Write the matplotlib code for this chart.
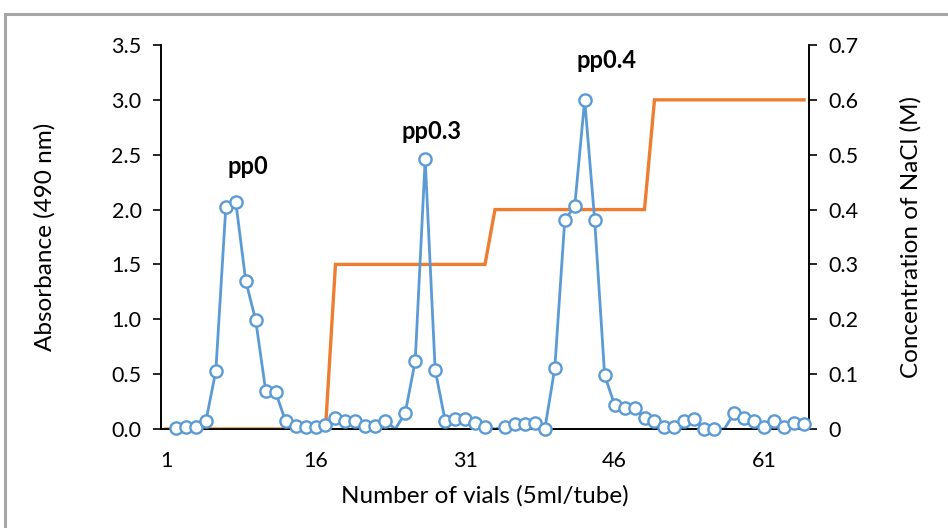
import numpy as np
import matplotlib
matplotlib.use("Agg")
import matplotlib.pyplot as plt
from matplotlib.patches import Rectangle

plt.rcParams['font.family'] = ['Lato', 'DejaVu Sans']

# ---- data ----
vials = list(range(1, 66))
# absorbance at 490 nm (NaN = empty cell, plotted as zero without marker)
absorbance = [np.nan, 0.01, 0.015, 0.015, 0.07, 0.53, 2.02, 2.07, 1.35, 0.99,
              0.35, 0.335, 0.07, 0.03, 0.015, 0.015, 0.035, 0.10, 0.07, 0.07,
              0.03, 0.03, 0.076, np.nan, 0.146, 0.62, 2.46, 0.54, 0.076, 0.095,
              0.095, 0.055, 0.018, np.nan, 0.02, 0.046, 0.046, 0.058, 0.0, 0.555,
              1.905, 2.03, 3.00, 1.905, 0.49, 0.22, 0.195, 0.19, 0.10, 0.076,
              0.02, 0.015, 0.073, 0.09, 0.0, 0.0, np.nan, 0.143, 0.098, 0.076,
              0.015, 0.073, 0.015, 0.052, 0.046]
nacl = [0.0] * 17 + [0.3] * 16 + [0.4] * 16 + [0.6] * 16
xticks = [1, 16, 31, 46, 61]
peak_labels = ["pp0", "pp0.3", "pp0.4"]
peak_pos = [(9.2, 2.39), (27.6, 2.71), (45.2, 3.36)]

blue = "#5B9BD5"
orange = "#ED7D31"

fig = plt.figure(figsize=(9.48, 5.28), dpi=100)
fig.patch.set_facecolor("white")
# outer gray frame
fig.add_artist(Rectangle((5 / 948, -0.05), 1.2, 1 - 14 / 528 + 0.05,
                         transform=fig.transFigure, fill=False,
                         edgecolor="#A6A6A6", linewidth=2.2))

ax = fig.add_axes([161 / 948, 1 - 429 / 528, (809 - 161) / 948, (429 - 45) / 528])
ax2 = ax.twinx()

abs_arr = np.array(absorbance, dtype=float)
mask_valid = ~np.isnan(abs_arr)
line_vals = np.where(mask_valid, abs_arr, 0.0)
ax.plot(vials[1:], line_vals[1:], color=blue, linewidth=2.0, zorder=2)
vx = np.array(vials)[mask_valid]
vy = abs_arr[mask_valid]
ax.plot(vx, vy, linestyle="none", marker="o", markersize=8.8,
        markerfacecolor="white", markeredgecolor=blue, markeredgewidth=1.7,
        zorder=3, clip_on=False)

ax2.plot(vials, nacl, color=orange, linewidth=2.4, zorder=4, solid_joinstyle="miter")

ax.set_xlim(0.5, 65.5)
ax.set_ylim(0, 3.5)
ax2.set_ylim(0, 0.7)

ax.set_yticks(np.arange(0, 3.51, 0.5))
ax.set_yticklabels([f"{v:.1f}" for v in np.arange(0, 3.51, 0.5)])
ax2.set_yticks(np.arange(0, 0.71, 0.1))
ax2.set_yticklabels(["0"] + [f"{v:.1f}" for v in np.arange(0.1, 0.71, 0.1)])
ax.set_xticks(xticks)

for a in (ax, ax2):
    a.spines['top'].set_visible(False)
    for s in a.spines.values():
        s.set_linewidth(1.2)
        s.set_color("black")
    a.tick_params(labelsize=15.5, colors="#000000", width=1.2, length=6)
ax.tick_params(axis='x', length=0, pad=16)
ax.tick_params(axis='y', pad=8)
ax2.tick_params(axis='y', pad=8)
ax.set_zorder(ax2.get_zorder() + 1)
ax.patch.set_visible(False)

ax.set_xlabel("Number of vials (5ml/tube)", fontsize=17.5, labelpad=10)
ax.set_ylabel("Absorbance (490 nm)", fontsize=17.5, labelpad=40)
ax2.set_ylabel("Concentration of NaCl (M)", fontsize=17.5, labelpad=30)

for lab, (px, py) in zip(peak_labels, peak_pos):
    ax.text(px, py, lab, ha="center", va="center", fontsize=17,
            fontweight="bold", color="black")

fig.savefig("out.png", dpi=100)
